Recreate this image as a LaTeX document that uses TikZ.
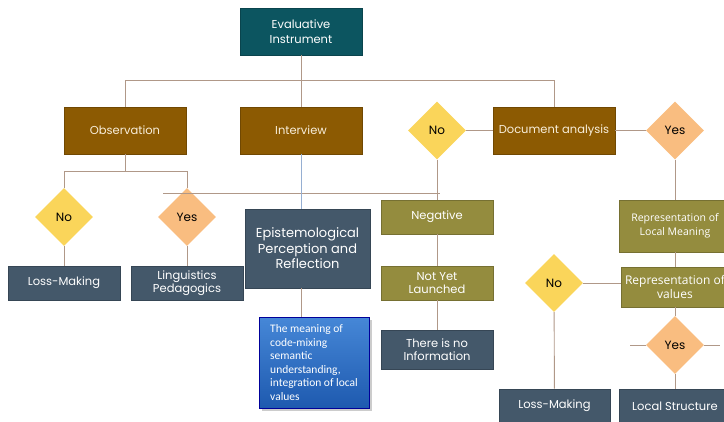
\documentclass[tikz,border=0pt]{standalone}
\usepackage{fontspec}
\setmainfont{Poppins}
\newfontfamily\opensans{Open Sans}
\newfontfamily\carlito{Carlito}
\usetikzlibrary{shapes.geometric,shadows}

\definecolor{teal}{RGB}{12,85,96}
\definecolor{brownbox}{RGB}{140,90,2}
\definecolor{slate}{RGB}{68,88,106}
\definecolor{olive}{RGB}{148,140,62}
\definecolor{gold}{RGB}{250,213,90}
\definecolor{peach}{RGB}{249,189,128}
\definecolor{wire}{RGB}{176,152,136}
\definecolor{bluewire}{RGB}{150,175,210}
\definecolor{cream}{RGB}{248,238,218}

\tikzset{
  box/.style={rectangle, draw=#1!80!black, fill=#1, line width=0.6pt,
    text=white, align=center, inner sep=1pt, font=\fontsize{11.5}{14.5}\selectfont},
  decision/.style={diamond, fill=#1, minimum width=58pt, minimum height=58pt,
    inner sep=0pt, text=black, font=\fontsize{12}{14}\selectfont},
  wire/.style={draw=wire, line width=0.9pt},
}

\begin{document}
\begin{tikzpicture}[x=1pt,y=-1pt]
  \useasboundingbox[fill=white] (0,0) rectangle (724,421);

  % top level
  \node[box=teal, minimum width=122pt, minimum height=47pt] (ei) at (301,31.5) {Evaluative\\Instrument};
  \node[box=brownbox, text=cream, minimum width=122pt, minimum height=47pt] (obs) at (125,130.5) {Observation};
  \node[box=brownbox, text=cream, minimum width=122pt, minimum height=47pt] (intv) at (301,130.5) {Interview};
  \node[box=brownbox, text=cream, minimum width=122pt, minimum height=47pt] (doc) at (554,130.5) {Document analysis};
  \node[decision=gold] (no1) at (437,130.5) {No};
  \node[decision=peach] (yes1) at (675,130.5) {Yes};

  % observation branch
  \node[decision=gold] (no2) at (64,217) {No};
  \node[decision=peach] (yes2) at (187,217) {Yes};
  \node[box=slate, minimum width=112pt, minimum height=34pt] (loss1) at (64,283) {Loss-Making};
  \node[box=slate, minimum width=112pt, minimum height=34pt, font=\fontsize{11.5}{13}\selectfont] (ling) at (187,283) {Linguistics\\Pedagogics};

  % interview branch
  \node[box=slate, minimum width=125pt, minimum height=79pt, font=\fontsize{13}{15.5}\selectfont] (epi) at (307.5,248.5) {Epistemological\\Perception and\\Reflection};
  \node[rectangle, draw=blue!60!black, top color={rgb,255:red,70;green,135;blue,215}, bottom color={rgb,255:red,30;green,90;blue,175},
    drop shadow={opacity=0.4}, minimum width=110pt, minimum height=91pt, align=left,
    text=white, font=\carlito\fontsize{11.5}{13.5}\selectfont] (blue) at (314,362.5)
    {The meaning of\\code-mixing\\semantic\\understanding,\\integration of local\\values};

  % document analysis, no
  \node[box=olive, minimum width=112pt, minimum height=34pt] (neg) at (437,217) {Negative};
  \node[box=olive, minimum width=112pt, minimum height=34pt, font=\fontsize{11.5}{13}\selectfont] (nyl) at (437,283) {Not Yet\\Launched};
  \node[box=slate, minimum width=112pt, minimum height=39pt, font=\fontsize{11.5}{13}\selectfont] (info) at (437,349.5) {There is no\\Information};

  % document analysis, yes
  \node[box=olive, minimum width=112pt, minimum height=52pt, font=\opensans\fontsize{10.5}{14}\selectfont] (rlm) at (675,226) {Representation of\\Local Meaning};
  \node[box=olive, minimum width=108pt, minimum height=40pt, font=\opensans\fontsize{12}{14}\selectfont] (rv) at (675,287) {Representation of\\values};
  \node[decision=gold] (no3) at (554,283) {No};
  \node[decision=peach] (yes3) at (675,345) {Yes};
  \node[box=slate, minimum width=111pt, minimum height=34pt] (loss2) at (554.5,406) {Loss-Making};
  \node[box=slate, minimum width=112pt, minimum height=34pt] (ls) at (675,406) {Local Structure};

  \coordinate (s1) at (163,193);
  \coordinate (s2) at (440,193);
  \coordinate (t1) at (630,345);
  \coordinate (t2) at (720,345);

  % connectors
  \draw[wire] (ei) to (intv);
  \draw[wire] (obs.north) to ++(0,-26) -| (doc.north);
  \draw[wire] (obs.south) to ++(0,18);
  \draw[wire] (no2.north) to ++(0,-16) -| (yes2.north);
  \draw[wire] (no2) to (loss1);
  \draw[wire] (yes2) to (ling);
  \draw[wire] (s1) to (s2);
  \draw[draw=bluewire, line width=0.9pt] (intv.south) to (intv.south |- epi.north);
  \draw[wire] (intv.south |- epi.south) to (intv.south |- blue.north);
  \draw[wire] (no1) to (doc);
  \draw[wire] (doc) to (yes1);
  \draw[wire] (no1) to (neg);
  \draw[wire] (neg) to (nyl);
  \draw[wire] (nyl) to (info);
  \draw[wire] (yes1) to (rlm);
  \draw[wire] (rlm) to (rv);
  \draw[wire] (no3.east) to (no3.east -| rv.west);
  \draw[wire] (no3) to (loss2);
  \draw[wire] (rv) to (yes3);
  \draw[wire] (yes3) to (ls);
  \draw[wire] (t1) to (yes3.west);
  \draw[wire] (yes3.east) to (t2);
\end{tikzpicture}
\end{document}
